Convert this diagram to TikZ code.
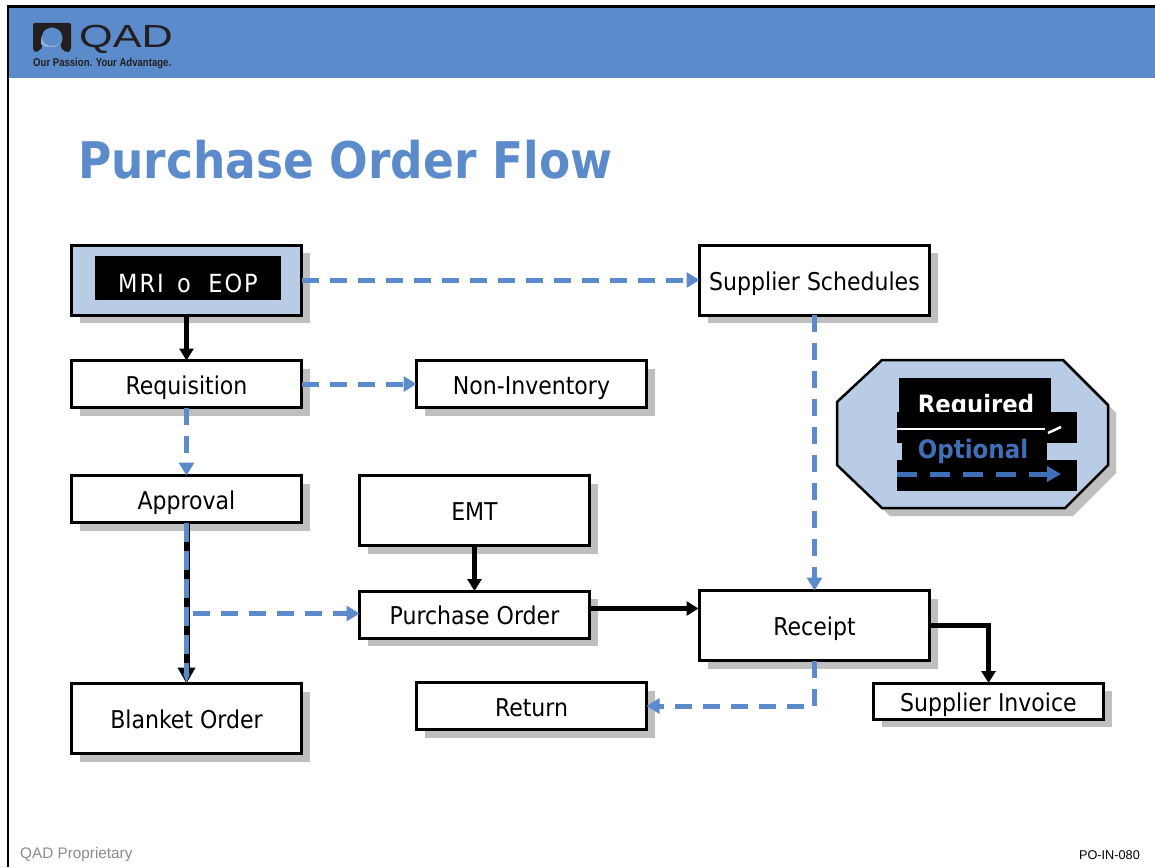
\documentclass[tikz,border=0pt]{standalone}
\usepackage{fontspec}
\setmainfont{DejaVu Sans Condensed}
\newfontfamily\spacedfont[LetterSpace=8]{DejaVu Sans Condensed}
\newfontfamily\logofont[FakeStretch=1.35]{Liberation Sans}
\newfontfamily\tagfont[FakeStretch=0.84]{Liberation Sans}
\newfontfamily\footfont{Liberation Sans}
\usetikzlibrary{arrows.meta,shadows,calc}
\definecolor{band}{HTML}{5B8BCB}
\definecolor{pale}{HTML}{B9CCE6}
\definecolor{shade}{HTML}{BFBFBF}
\definecolor{legendblue}{HTML}{3F6FB7}
\definecolor{logodark}{HTML}{231F20}
\definecolor{foot}{HTML}{8C8C8C}
\tikzset{
  x=1pt,y=-1pt,
  boxbase/.style={draw=black,line width=3pt,minimum width=230pt,outer sep=0pt,inner sep=0pt,
     font=\fontsize{24.5}{27}\selectfont,text height=22pt,text depth=2pt,
     general shadow={fill=shade,shadow xshift=8pt,shadow yshift=-8pt}},
  whitebox/.style={boxbase,fill=white},
  palebox/.style={boxbase,fill=pale},
  solidflow/.style={draw=black,line width=4.5pt,-{Triangle[length=12pt,width=14pt]}},
  dashflow/.style={draw=band,line width=5pt,dash pattern=on 17pt off 11pt,-{Triangle[length=13pt,width=15pt]}},
}
\begin{document}
\begin{tikzpicture}
\useasboundingbox (0,0) rectangle (1155,867);
\fill[white] (0,0) rectangle (1155,867);
% header band and frame
\fill[band] (8,7) rectangle (1155,78);
\draw[black,line width=2.5pt] (8,867) -- (8,6.5) -- (1155,6.5);
% logo
\fill[logodark,rounded corners=2pt] (33,23) -- (71,23) -- (71,50) -- (67,53) -- (60,47) -- (63,38) -- (60,30) -- (52,27) -- (44,30) -- (41,38) -- (43,47) -- (36,53) -- (33,50) -- cycle;
\begin{scope}
\clip (41,47) -- (41,36) arc[start angle=180,end angle=360,x radius=11,y radius=-10] -- (63,47) -- cycle;
\shade[inner color=white,outer color=band!80!white] (50,35) circle[radius=13];
\end{scope}
\node[anchor=west,inner sep=0pt,text=logodark,font=\logofont\fontsize{32}{32}\selectfont] (logotext) at (79,39) {QAD};
\node[anchor=west,inner sep=0pt,text=logodark,font=\tagfont\bfseries\fontsize{11.4}{12}\selectfont] (tagline) at (33,64) {Our Passion. Your Advantage.};
% title
\node[anchor=west,inner sep=0pt,text=band,font=\bfseries\fontsize{50.5}{56}\selectfont] (title) at (78,160) {Purchase Order Flow};
% boxes
\node[palebox,minimum height=70pt] (mrp) at (186.5,280) {};
\fill[black] (95,256) rectangle (281,300);
\node[text=white,font=\spacedfont\fontsize{25}{27}\selectfont,inner sep=0pt] (mrptext) at (188,283) {MRI\, o\,\, EOP};
\node[whitebox,minimum height=70pt] (sched) at (814.5,280) {Supplier Schedules};
\node[whitebox,minimum height=47pt] (req) at (186.5,384) {Requisition};
\node[whitebox,minimum height=47pt] (noninv) at (531.5,384) {Non-Inventory};
\node[whitebox,minimum height=47pt] (appr) at (186.5,499) {Approval};
\node[whitebox,minimum height=70pt] (emt) at (474.5,510.5) {EMT};
\node[whitebox,minimum height=47pt] (po) at (474.5,614.5) {Purchase Order};
\node[whitebox,minimum height=70pt] (receipt) at (814.5,625.5) {Receipt};
\node[whitebox,minimum height=70pt] (blanket) at (186.5,718.5) {Blanket Order};
\node[whitebox,minimum height=47pt] (ret) at (531.5,706) {Return};
\node[whitebox,minimum height=36pt] (inv) at (988.5,701) {Supplier Invoice};
% legend
\filldraw[fill=pale,draw=black,line width=2.5pt,
  general shadow={fill=shade,shadow xshift=8pt,shadow yshift=-8pt}]
  (882,360) -- (1063,360) -- (1108,405) -- (1108,465) -- (1065,508) -- (882,508) -- (837,465) -- (837,402) -- cycle;
\begin{scope}
\clip (880,370) rectangle (1060,412);
\fill[black] (899,378) rectangle (1051,413);
\node[text=white,font=\bfseries\fontsize{25.3}{27}\selectfont,inner sep=0pt] (legreq) at (976,407) {Required};
\end{scope}
\fill[black] (897,412) rectangle (1077,443);
\fill[black] (902,443) rectangle (1047,461);
\fill[black] (897,460) rectangle (1077,491);
\node[text=legendblue,font=\bfseries\fontsize{25.5}{27}\selectfont,inner sep=0pt] (legopt) at (973,451) {Optional};
\coordinate (l1a) at (897,429);
\coordinate (l1b) at (1045,429);
\coordinate (l1c) at (1048,433);
\coordinate (l1d) at (1061,427);
\draw[white,line width=2.5pt] (l1a) -- (l1b);
\draw[white,line width=2.5pt] (l1c) -- (l1d);
\coordinate (l2a) at (897,474);
\coordinate (l2b) at (1061,474);
\draw[legendblue,line width=5pt,dash pattern=on 20pt off 13pt,-{Triangle[length=14pt,width=15pt]}] (l2a) -- (l2b);
% connectors
\draw[solidflow] (mrp.south) -- (req.north);
\draw[dashflow] (mrp.east) -- (sched.west);
\draw[dashflow] (req.east) -- (noninv.west);
\draw[dashflow] (req.south) -- (appr.north);
\draw[dashflow] (sched.south) -- (receipt.north);
\draw[draw=black,line width=6pt,-{Triangle[length=16pt,width=17pt]}] (appr.south) -- (blanket.north);
\draw[draw=band,line width=4.6pt,dash pattern=on 19pt off 9pt,-{Triangle[length=10pt,width=6pt]}] (appr.south) -- (blanket.north);
\coordinate (branch) at ($(appr.south)+(6,91)$);
\draw[dashflow] (branch) -- (branch -| po.west);
\draw[solidflow] (emt.south) -- (po.north);
\draw[solidflow] ($(po.east)+(0,-6)$) -- ($(po.east)+(109,-6)$);
\draw[solidflow] (receipt.east) -| (inv.north);
\draw[dashflow] (receipt.south) |- (ret.east);
% footer
\node[anchor=west,inner sep=0pt,text=foot,font=\footfont\fontsize{15.3}{16}\selectfont] (propr) at (20,855) {QAD Proprietary};
\node[anchor=east,inner sep=0pt,text=black,font=\footfont\fontsize{12.7}{13}\selectfont] (code) at (1140,855) {PO-IN-080};
\end{tikzpicture}
\end{document}
